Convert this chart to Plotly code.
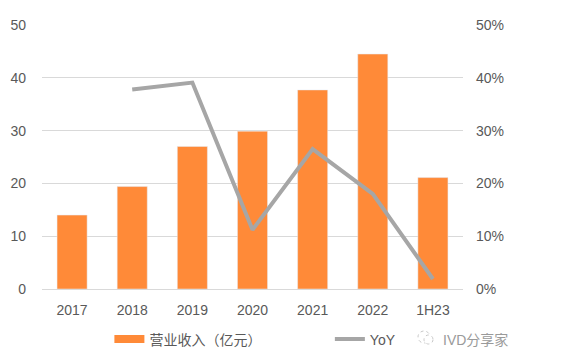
import plotly.graph_objects as go

categories = ["2017", "2018", "2019", "2020", "2021", "2022", "1H23"]
revenue = [14.0, 19.4, 27.0, 29.9, 37.7, 44.5, 21.1]
yoy = [None, 0.378, 0.391, 0.112, 0.265, 0.180, 0.019]
left_ticks = [0, 10, 20, 30, 40, 50]
right_ticks = [0, 0.1, 0.2, 0.3, 0.4, 0.5]

ORANGE = "#FF8A38"
GRAY = "#A6A6A6"
TXT = "#595959"
FONT = "Liberation Sans, Arial, Noto Sans CJK SC, sans-serif"

fig = go.Figure()
fig.add_trace(go.Bar(x=categories, y=revenue, marker_color=ORANGE, width=0.5,
                     showlegend=False, name="营业收入（亿元）"))
# legend proxy for bars (wide rectangle)
fig.add_trace(go.Scatter(x=[None], y=[None], mode="lines", name="营业收入（亿元）",
                         line=dict(color=ORANGE, width=8), legend="legend"))
fig.add_trace(go.Scatter(x=categories, y=yoy, mode="lines", name="YoY", yaxis="y2",
                         line=dict(color=GRAY, width=4), connectgaps=False,
                         legend="legend2"))

leg_common = dict(orientation="h", xref="container", yref="container",
                  xanchor="left", yanchor="top", font=dict(size=14, color=TXT),
                  itemwidth=30, bgcolor="rgba(0,0,0,0)")

fig.update_layout(
    width=561, height=363,
    margin=dict(l=42, r=98, t=25, b=74, autoexpand=False),
    paper_bgcolor="white", plot_bgcolor="white",
    font=dict(family=FONT, size=14, color=TXT),
    bargap=0.5,
    xaxis=dict(type="category", showgrid=False, showline=True, linecolor="#D9D9D9",
               linewidth=1, ticks="", ticklabelstandoff=8,
               tickfont=dict(size=14, color=TXT)),
    yaxis=dict(range=[0, 50], tickvals=left_ticks, showgrid=True, gridcolor="#D9D9D9",
               gridwidth=1, zeroline=False, ticks="", ticklabelstandoff=15,
               tickfont=dict(size=14, color=TXT)),
    yaxis2=dict(range=[0, 0.5], tickvals=right_ticks, tickformat=".0%", overlaying="y",
                side="right", showgrid=False, zeroline=False, ticks="",
                ticklabelstandoff=12, tickfont=dict(size=14, color=TXT)),
    legend=dict(x=0.195, y=0.109, **leg_common),
    legend2=dict(x=0.588, y=0.109, **leg_common),
)

fig.add_annotation(text="IVD分享家", xref="paper", yref="paper", x=1.03, y=-0.193,
                   xanchor="center", yanchor="middle", showarrow=False,
                   font=dict(size=14, color="#9A9A9A"))


def px(xp):
    return (xp - 42) / 421


def py(yp):
    return (289 - yp) / 264


fig.add_shape(type="circle", xref="paper", yref="paper", x0=px(418), x1=px(430),
              y0=py(343), y1=py(331), line=dict(color="#C8C8C8", width=1, dash="dot"))
fig.add_shape(type="circle", xref="paper", yref="paper", x0=px(424), x1=px(433),
              y0=py(344), y1=py(335), line=dict(color="#C8C8C8", width=1, dash="dot"),
              fillcolor="white")

fig.write_html("out.html", config={"displayModeBar": False},
               post_script="document.body.style.margin='0';"
               "document.body.style.overflow='hidden';")
